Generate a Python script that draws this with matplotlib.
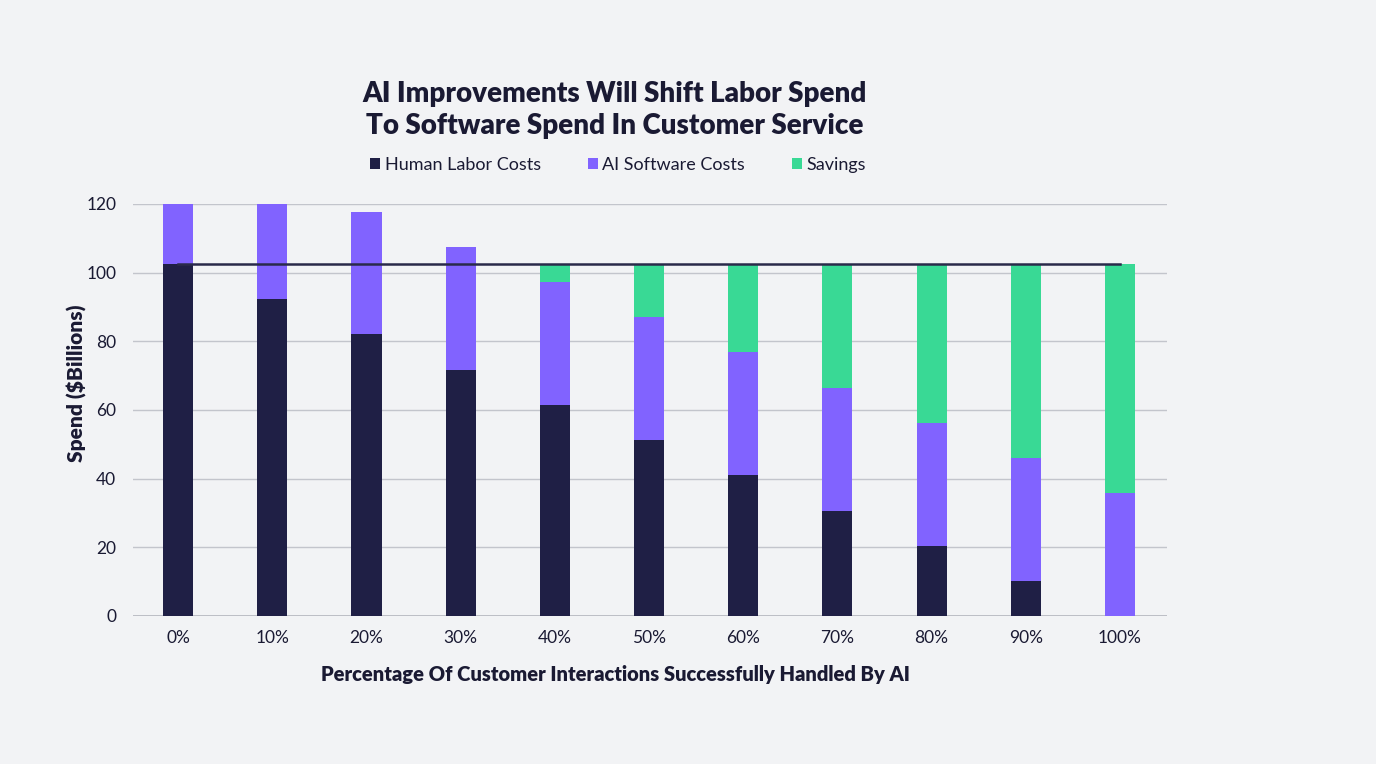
import numpy as np
import matplotlib.pyplot as plt

# chart data
categories = ['0%', '10%', '20%', '30%', '40%', '50%', '60%', '70%', '80%', '90%', '100%']
humanLabor = [102.5, 92.2, 82.0, 71.7, 61.5, 51.2, 41.0, 30.7, 20.5, 10.2, 0.0]
aiSoftware = [35.8, 35.8, 35.8, 35.8, 35.8, 35.8, 35.8, 35.8, 35.8, 35.8, 35.8]
savings = [0.0, 0.0, 0.0, 0.0, 5.2, 15.5, 25.7, 36.0, 46.2, 56.5, 66.7]
currentSpend = 102.5

navy = '#1f1f45'
purple = '#8163ff'
green = '#39d995'
bg = '#f2f3f5'
textColor = '#1a1a33'

plt.rcParams['font.family'] = ['Lato', 'DejaVu Sans']

fig = plt.figure(figsize=(13.76, 7.64), dpi=100, facecolor=bg)
ax = fig.add_axes([133/1376, 1 - 616/764, (1167-133)/1376, (616-204)/764])
ax.set_facecolor(bg)

x = np.arange(len(categories))
width = 0.32
human = np.array(humanLabor)
ai = np.array(aiSoftware)
ax.bar(x, human, width, color=navy, label='Human Labor Costs', zorder=3)
ax.bar(x, ai, width, bottom=human, color=purple, label='AI Software Costs', zorder=3)
ax.bar(x, savings, width, bottom=human + ai, color=green, label='Savings', zorder=3)
ax.plot([x[0], x[-1]], [currentSpend, currentSpend], color='#2a2a4a', linewidth=1.8, zorder=4)

ax.set_ylim(0, 120)
ax.set_xlim(-0.48, len(categories) - 0.5)
ax.set_yticks(range(0, 121, 20))
ax.set_xticks(x)
ax.set_xticklabels(categories)
ax.yaxis.grid(True, color='#c3c5cc', linewidth=1, zorder=0)
for s in ['top', 'right', 'left', 'bottom']:
    ax.spines[s].set_visible(False)
ax.axhline(0, color='#b5b7bf', linewidth=1.2, zorder=2)
ax.tick_params(axis='both', length=0, labelsize=12.5, colors=textColor, pad=10)
ax.tick_params(axis='y', pad=12)

ax.set_ylabel('Spend ($Billions)', fontsize=15, fontweight='heavy', color=textColor)
ax.yaxis.set_label_coords(-46/1034, (616-383)/412)

fig.text(615/1376, 1 - 675/764, 'Percentage Of Customer Interactions Successfully Handled By AI',
         ha='center', va='center', fontsize=14.5, fontweight='heavy', color=textColor)
fig.text(615/1376, 1 - 110/764, 'AI Improvements Will Shift Labor Spend\nTo Software Spend In Customer Service',
         ha='center', va='center', fontsize=20, fontweight='heavy', color=textColor, linespacing=1.25)

leg = fig.legend(loc='center', bbox_to_anchor=(618/1376, 1 - 165/764), ncol=3, frameon=False,
                 fontsize=13, handlelength=0.55, handleheight=0.55, handletextpad=0.25,
                 columnspacing=2.6, labelcolor=textColor)

fig.savefig('out.png', dpi=100, facecolor=bg)
